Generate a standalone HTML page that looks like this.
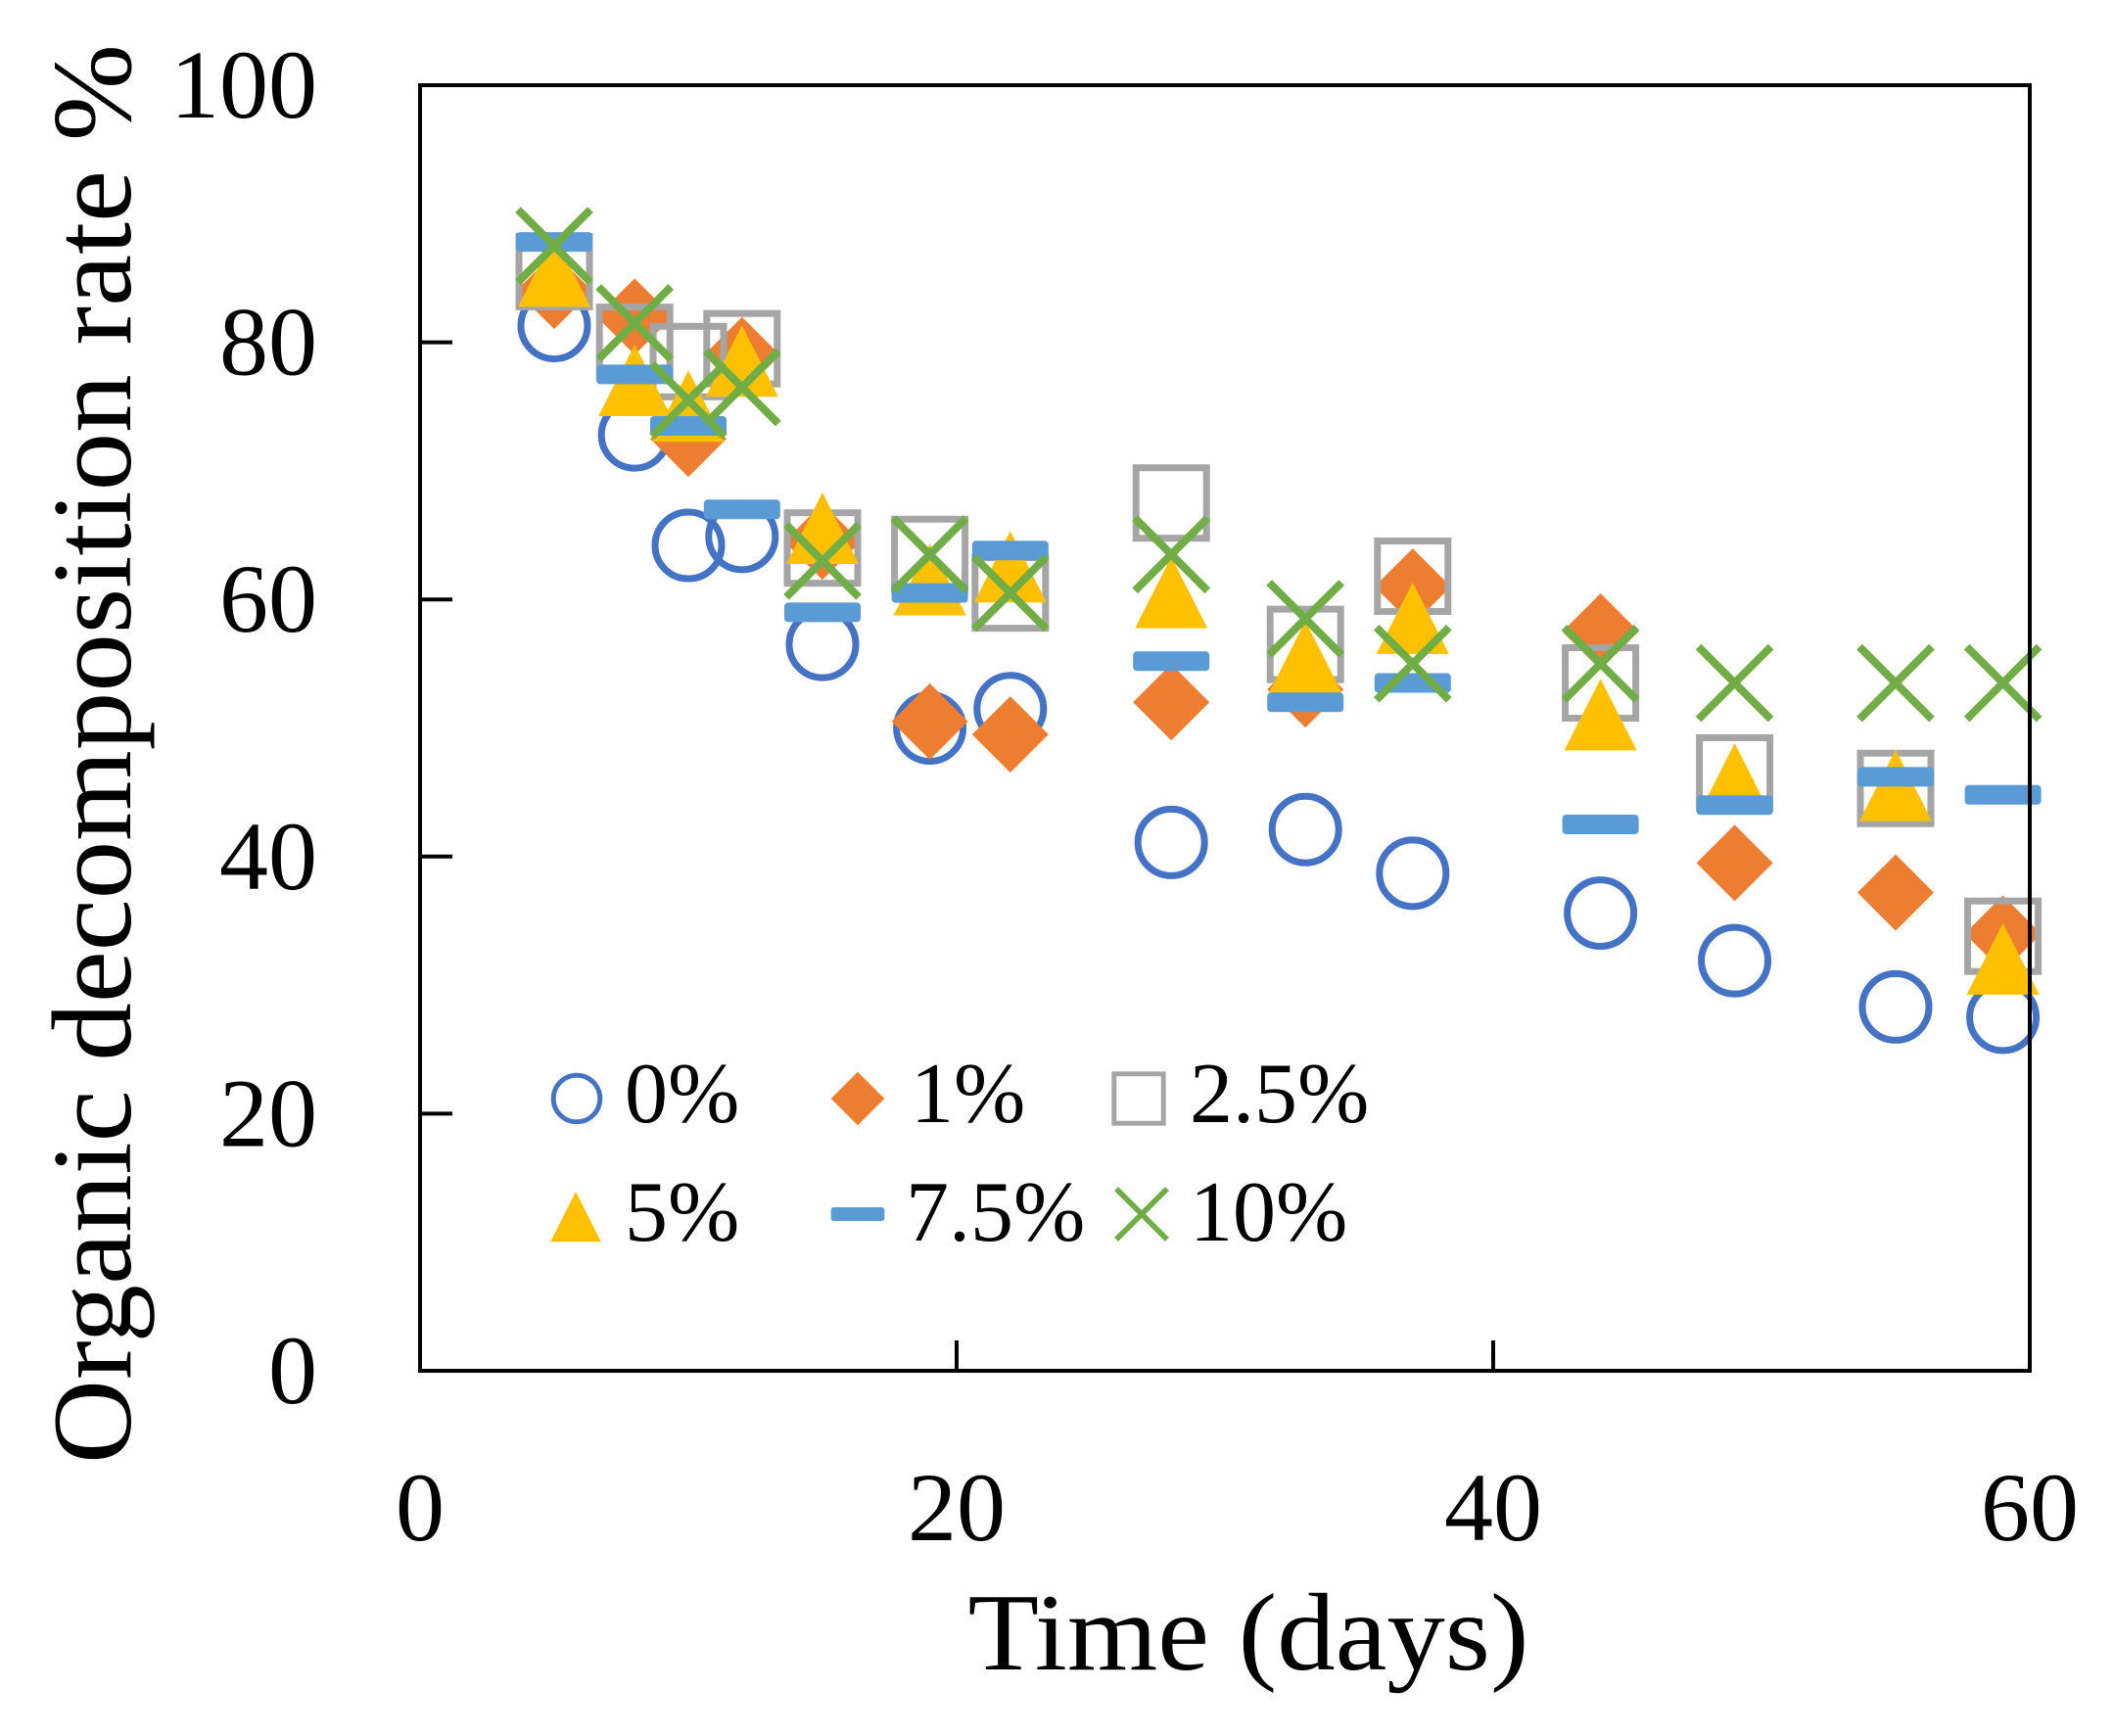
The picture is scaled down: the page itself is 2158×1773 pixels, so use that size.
<!DOCTYPE html>
<html><head><meta charset="utf-8"><style>
html,body{margin:0;padding:0;background:#fff;}
svg{display:block;font-family:"Liberation Serif",serif;}
</style></head><body>
<svg id="chart" width="2158" height="1773" viewBox="0 0 2158 1773" xmlns="http://www.w3.org/2000/svg">
<rect width="2158" height="1773" fill="#fff"/>
<g id="marks"></g>
<rect x="429" y="87" width="1644" height="1313" fill="none" stroke="#000" stroke-width="4"/>
<g id="axes"></g>
<text transform="translate(133,770) rotate(-90)" text-anchor="middle" font-size="115" textLength="1450" lengthAdjust="spacingAndGlyphs">Organic decomposition rate %</text>
<text x="1275" y="1705" text-anchor="middle" font-size="112" textLength="573" lengthAdjust="spacingAndGlyphs">Time (days)</text>
<g id="legend"></g>
</svg>
<script>
const days = [5, 8, 10, 12, 15, 19, 22, 28, 33, 37, 44, 49, 55, 59];
const s0   = [81.3, 72.8, 64.2, 64.9, 56.5, 50, 51.5, 41.1, 42.1, 38.7, 35.6, 31.9, 28.3, 27.5];
const s1   = [84, 82, 72.5, 79, 64.5, 50.5, 49.5, 52, 53, 61, 57.5, 39.5, 37.2, 34];
const s25  = [85.5, 80, 78.5, 79.5, 64, 63.5, 60.5, 67.5, 56.5, 61.8, 53.5, 46.5, 45.3, 33.8];
const s5   = [85.5, 77, 75, 78.5, 65.5, 61.5, 62.5, 60.5, 55.5, 58.5, 51, 46, 45.5, 32];
const s75  = [87.8, 77.5, 73.5, 67, 59, 60.5, 63.8, 55.2, 52, 53.5, 42.5, 44, 46.2, 44.8];
const s10  = [87.5, 81.5, 75.5, 76.5, 63, 63.5, 60.5, 63.5, 58.5, 55, 55, 53.5, 53.5, 53.5];
const seriesNames = ["0%", "1%", "2.5%", "5%", "7.5%", "10%"];
const xTicks = [0, 20, 40, 60];
const yTicks = [0, 20, 40, 60, 80, 100];

const NS = "http://www.w3.org/2000/svg";
const X0 = 429, X1 = 2073, Y0 = 1400, Y1 = 87;
function sx(v){ return X0 + (v - 0) / 60 * (X1 - X0); }
function sy(v){ return Y0 - (v - 0) / 100 * (Y0 - Y1); }
function mk(tag, attrs, parent){
  const e = document.createElementNS(NS, tag);
  for (const k in attrs) e.setAttribute(k, attrs[k]);
  parent.appendChild(e);
  return e;
}
function marker(type, cx, cy, sc, parent){
  let e;
  if (type === 0) e = mk("circle", {cx: cx, cy: cy, r: 34*sc, fill: "none", stroke: "#4472C4", "stroke-width": 7*sc}, parent);
  else if (type === 1) e = mk("polygon", {points: [cx,cy-39*sc, cx+39*sc,cy, cx,cy+39*sc, cx-39*sc,cy].join(","), fill: "#ED7D31"}, parent);
  else if (type === 2) e = mk("rect", {x: cx-36*sc, y: cy-36*sc, width: 72*sc, height: 72*sc, fill: "none", stroke: "#A5A5A5", "stroke-width": 7*sc}, parent);
  else if (type === 3) e = mk("polygon", {points: [cx,cy-37*sc, cx+37*sc,cy+36*sc, cx-37*sc,cy+36*sc].join(","), fill: "#FFC000"}, parent);
  else if (type === 4) e = mk("rect", {x: cx-39*sc, y: cy-10*sc, width: 78*sc, height: 20*sc, rx: 4*sc, fill: "#5B9BD5"}, parent);
  else {
    e = mk("path", {d: "M"+(cx-37*sc)+","+(cy-37*sc)+"L"+(cx+37*sc)+","+(cy+37*sc)+"M"+(cx+37*sc)+","+(cy-37*sc)+"L"+(cx-37*sc)+","+(cy+37*sc), stroke: "#70AD47", "stroke-width": 8*sc, fill: "none"}, parent);
  }
  return e;
}
const all = [s0, s1, s25, s5, s75, s10];
const marks = document.getElementById("marks");
all.forEach(function(arr, si){
  const g = mk("g", {}, marks);
  
  
  arr.forEach(function(v, i){
    const m = marker(si, sx(days[i]), sy(v), 1, g);
    
    
  });
});
const axes = document.getElementById("axes");
yTicks.forEach(function(t){
  if (t > 0 && t < 100) {
    const l = mk("line", {x1: X0, x2: X0 + 33, y1: sy(t), y2: sy(t), stroke: "#000", "stroke-width": 4}, axes);
    
    
  }
  const tx = mk("text", {x: 324, y: sy(t) + 33, "text-anchor": "end", "font-size": 100}, axes);
  tx.textContent = t;
  
  
});
xTicks.forEach(function(t){
  if (t > 0 && t < 60) {
    const l = mk("line", {x1: sx(t), x2: sx(t), y1: Y0, y2: Y0 - 31, stroke: "#000", "stroke-width": 4}, axes);
    
    
  }
  const tx = mk("text", {x: sx(t), y: 1573, "text-anchor": "middle", "font-size": 100}, axes);
  tx.textContent = t;
  
  
});
const legend = document.getElementById("legend");
const legPos = [[589,1122,638],[876,1122,930],[1163,1122,1215],[588,1243,638],[876,1240,925],[1166,1240,1215]];
seriesNames.forEach(function(n, i){
  const p = legPos[i];
  const g = mk("g", {}, legend);
  
  
  marker(i, p[0], p[1], 0.7, g);
  const t = mk("text", {x: p[2], y: (i < 3 ? 1146 : 1267), "font-size": 88}, g);
  t.textContent = n;
});
</script>
</body></html>
